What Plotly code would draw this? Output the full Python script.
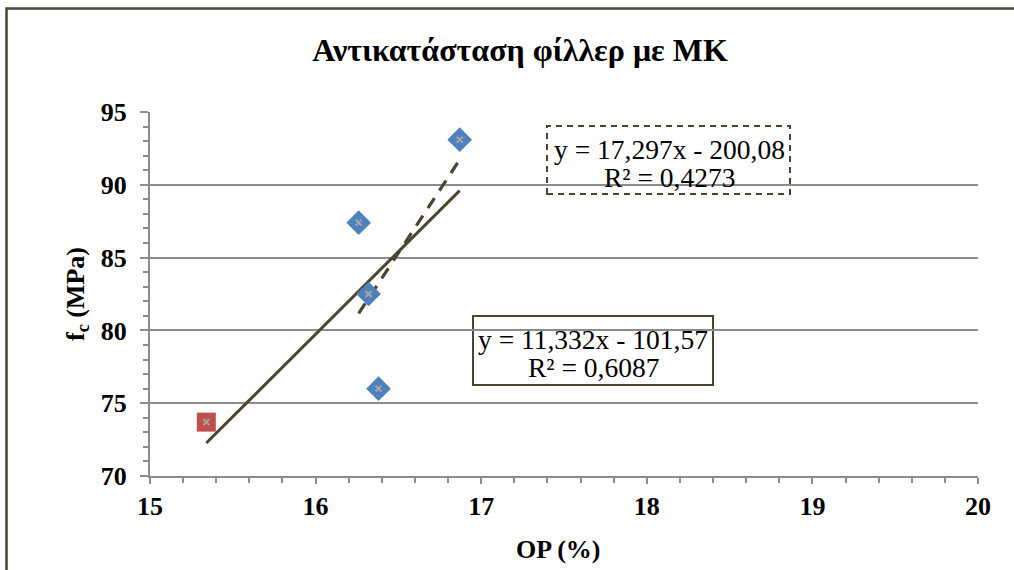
import plotly.graph_objects as go

# Measured specimens: filler replaced by MK (blue) and reference mix (red)
op_mk = [16.26, 16.32, 16.38, 16.87]
fc_mk = [87.4, 82.5, 76.0, 93.1]
op_ref = [15.34]
fc_ref = [73.7]

# Linear trend coefficients as reported on the chart
slope_all, icpt_all, r2_all = 11.332, -101.57, 0.6087
slope_mk, icpt_mk, r2_mk = 17.297, -200.08, 0.4273

x_ticks = [15, 16, 17, 18, 19, 20]
y_ticks = [70, 75, 80, 85, 90, 95]

SERIF = "Liberation Serif, Times New Roman, serif"
OLIVE = "#4a4530"
GRID = "#8c8c8c"

all_x = op_ref + op_mk
xa = [min(all_x), max(all_x)]
xm = [min(op_mk), max(op_mk)]

fig = go.Figure()

# Trend lines
fig.add_trace(go.Scatter(
    x=xa, y=[slope_all * v + icpt_all for v in xa], mode="lines",
    line=dict(color=OLIVE, width=3), hoverinfo="skip", showlegend=False))
fig.add_trace(go.Scatter(
    x=xm, y=[slope_mk * v + icpt_mk for v in xm], mode="lines",
    line=dict(color=OLIVE, width=3.2, dash="12px,9px"), hoverinfo="skip",
    showlegend=False))

# Data points
fig.add_trace(go.Scatter(
    x=op_mk, y=fc_mk, mode="markers",
    marker=dict(symbol="diamond", size=19, color="#4f81bd",
                line=dict(width=0)), showlegend=False))
fig.add_trace(go.Scatter(
    x=op_ref, y=fc_ref, mode="markers",
    marker=dict(symbol="square", size=19, color="#c0504d",
                line=dict(width=0)), showlegend=False))
fig.add_trace(go.Scatter(
    x=op_mk + op_ref, y=fc_mk + fc_ref, mode="markers",
    marker=dict(symbol="x-thin", size=6, color="#a5a5a5",
                line=dict(width=2, color="#a5a5a5")),
    hoverinfo="skip", showlegend=False))

L, R, T, B = 150, 36, 112, 94
W, H = 1014, 570
pw, ph = W - L - R, H - T - B


def px(x):
    return (x - L) / pw


def py(y):
    return (H - B - y) / ph


shapes = [
    # outer chart frame; right and bottom edges fall outside the canvas
    dict(type="rect", xref="paper", yref="paper",
         x0=px(6.5), x1=px(W + 20), y0=py(H + 20), y1=py(8.5),
         line=dict(color=OLIVE, width=2.5), fillcolor="rgba(0,0,0,0)",
         layer="below"),
    # equation boxes
    dict(type="rect", xref="paper", yref="paper",
         x0=px(547), x1=px(790), y0=py(194), y1=py(126),
         line=dict(color=OLIVE, width=2, dash="6px,5px"), fillcolor="rgba(0,0,0,0)"),
    dict(type="rect", xref="paper", yref="paper",
         x0=px(473), x1=px(713), y0=py(385), y1=py(316),
         line=dict(color=OLIVE, width=2), fillcolor="white", layer="below"),
]


def eq_text(m, b):
    return f"y = {m:.3f}x - {abs(b):.2f}".replace(".", ",")


def r2_text(r2):
    return f"R² = {r2:.4f}".replace(".", ",")


EQ_FONT = dict(family=SERIF, size=27.5, color="black")
annotations = []
for cx, y1, y2, m, b, r2 in [
    (669, 149, 177, slope_mk, icpt_mk, r2_mk),
    (593, 339, 367, slope_all, icpt_all, r2_all),
]:
    for yy, txt in [(y1, eq_text(m, b)), (y2, r2_text(r2))]:
        annotations.append(dict(
            xref="paper", yref="paper", x=px(cx), y=py(yy), showarrow=False,
            xanchor="center", yanchor="middle", text=txt, font=EQ_FONT))

# axis titles
AX_FONT = dict(family=SERIF, size=26, color="black")
annotations.append(dict(
    xref="paper", yref="paper", x=px(77), y=py(294), showarrow=False,
    xanchor="center", yanchor="middle", textangle=-90,
    text="<b>f<sub>c</sub> (MPa)</b>", font=AX_FONT))
annotations.append(dict(
    xref="paper", yref="paper", x=px(558), y=py(549), showarrow=False,
    xanchor="center", yanchor="middle",
    text="<b>OP (%)</b>", font=AX_FONT))

fig.update_layout(
    width=W, height=H,
    margin=dict(l=L, r=R, t=T, b=B, pad=0),
    paper_bgcolor="white", plot_bgcolor="white",
    title=dict(text="<b>Αντικατάσταση φίλλερ με ΜΚ</b>", xref="container",
               x=520 / W, xanchor="center",
               y=1 - 50 / H, yanchor="middle",
               font=dict(family=SERIF, size=32, color="black")),
    shapes=shapes, annotations=annotations,
)

fig.update_xaxes(
    range=[15, 20], tickvals=x_ticks, ticktext=[str(v) for v in x_ticks],
    showgrid=False, zeroline=False,
    showline=True, linecolor=GRID, linewidth=2,
    ticks="outside", ticklen=6, tickwidth=2, tickcolor=GRID,
    minor=dict(dtick=0.2, ticks="outside", ticklen=5, tickwidth=1.5, tickcolor=GRID),
    tickfont=dict(family=SERIF, size=26, color="black", weight="bold"),
    ticklabelstandoff=0,
)
fig.update_yaxes(
    range=[70, 95], tickvals=y_ticks, ticktext=[str(v) for v in y_ticks],
    showgrid=True, gridcolor=GRID, gridwidth=2, zeroline=False,
    showline=True, linecolor=GRID, linewidth=2,
    ticks="outside", ticklen=8, tickwidth=2, tickcolor=GRID,
    minor=dict(dtick=1, ticks="outside", ticklen=5, tickwidth=1.5, tickcolor=GRID,
               showgrid=False),
    tickfont=dict(family=SERIF, size=26, color="black", weight="bold"),
    ticklabelstandoff=8,
)

fig.write_html("out.html")
